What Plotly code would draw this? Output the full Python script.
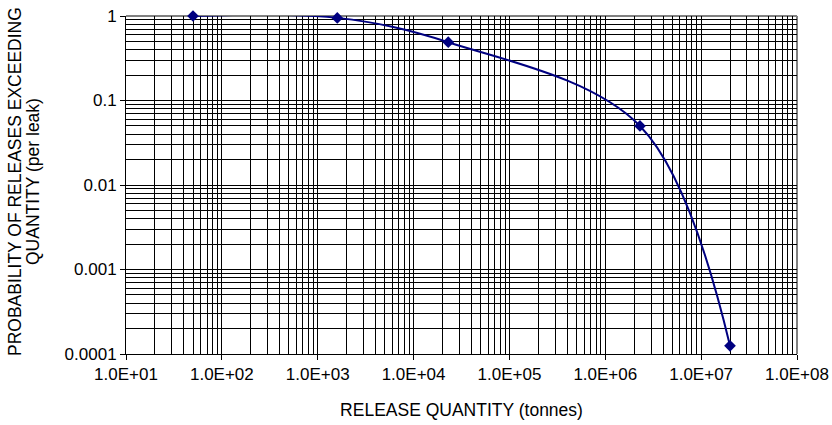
import plotly.graph_objects as go

# Data
release_qty = [50, 1600, 23000, 2.3e6, 2.0e7]
probability = [1.0, 0.95, 0.49, 0.05, 1.25e-4]

x_tick_vals = [1e1, 1e2, 1e3, 1e4, 1e5, 1e6, 1e7, 1e8]
x_tick_text = ["1.0E+01", "1.0E+02", "1.0E+03", "1.0E+04", "1.0E+05", "1.0E+06", "1.0E+07", "1.0E+08"]
y_tick_vals = [1e-4, 1e-3, 1e-2, 1e-1, 1]
y_tick_text = ["0.0001", "0.001", "0.01", "0.1", "1"]
y_title_lines = ["PROBABILITY OF RELEASES EXCEEDING", "QUANTITY (per leak)"]

FONT = "Liberation Sans, Arial, sans-serif"
NAVY = "#000080"
FS = 17

fig = go.Figure()
fig.add_trace(go.Scatter(
    x=release_qty, y=probability,
    mode="lines+markers",
    line=dict(color=NAVY, width=2, shape="spline", smoothing=1),
    marker=dict(symbol="diamond", size=9, color=NAVY),
    cliponaxis=False,
    showlegend=False,
))

axis_common = dict(
    type="log",
    automargin=False,
    showline=True, linecolor="black", linewidth=1,
    ticks="outside", ticklen=5, tickcolor="black", tickwidth=1,
    showgrid=True, gridcolor="black", gridwidth=1,
    tickfont=dict(family=FONT, size=FS, color="black"),
    ticklabeloverflow="allow",
    zeroline=False,
)

fig.update_xaxes(
    **axis_common,
    range=[1, 8],
    tickvals=x_tick_vals, ticktext=x_tick_text,
    minor=dict(dtick="D1", showgrid=True, gridcolor="black", gridwidth=1, ticks=""),
    title=dict(text="RELEASE QUANTITY (tonnes)", font=dict(family=FONT, size=17.5, color="black"), standoff=20),
)
fig.update_yaxes(
    **axis_common,
    range=[-4, 0],
    tickvals=y_tick_vals, ticktext=y_tick_text,
    minor=dict(dtick="D1", showgrid=True, gridcolor="black", gridwidth=1, ticks=""),
)

# y-axis title as two rotated lines (tight line spacing as in the reference)
for line_text, px in zip(y_title_lines, [15, 33]):
    fig.add_annotation(
        text=line_text, textangle=-90, showarrow=False,
        xref="paper", yref="paper", x=0, y=0.5,
        xanchor="center", yanchor="middle",
        xshift=px - 126, yshift=3,
        font=dict(family=FONT, size=17.5, color="black"),
    )

# gray plot-area border on top and right
fig.add_shape(type="line", xref="paper", yref="paper", x0=0, x1=1, y0=1, y1=1,
              line=dict(color="#808080", width=2), layer="between")
fig.add_shape(type="line", xref="paper", yref="paper", x0=1, x1=1, y0=0, y1=1,
              line=dict(color="#808080", width=2), layer="between")

fig.update_layout(
    width=832, height=425,
    margin=dict(l=126, r=35, t=16, b=71),
    plot_bgcolor="white", paper_bgcolor="white",
    font=dict(family=FONT, color="black"),
)

fig.write_html("out.html", config={"displayModeBar": False},
               post_script="document.body.style.margin='0';")
